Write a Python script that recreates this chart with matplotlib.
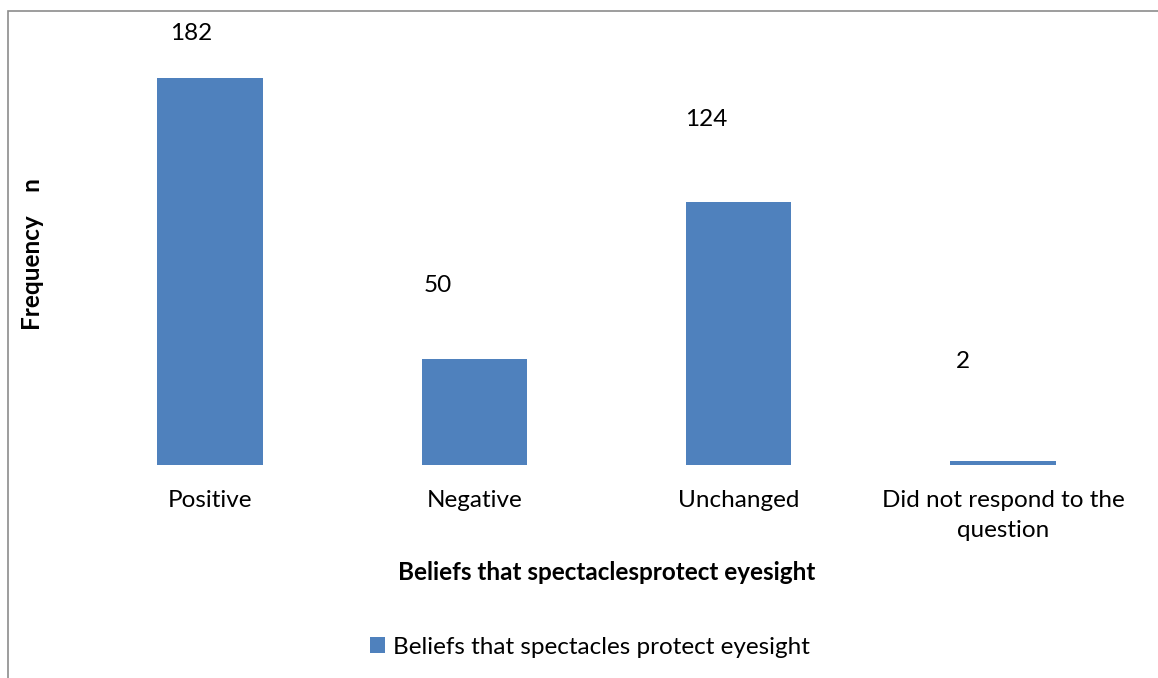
import matplotlib.pyplot as plt
from matplotlib.patches import Rectangle

plt.rcParams['font.family'] = ['Lato', 'DejaVu Sans']

categories = ["Positive", "Negative", "Unchanged", "Did not respond to the\nquestion"]
frequency = [182, 50, 124, 2]
# where Excel put the data labels, offset from bar top (pixels)
label_dx = [-19, -37, -32, -40]
label_dy = [45, 73, 82, 99]

bar_color = "#4F81BD"
fs = 17.5

fig = plt.figure(figsize=(11.58, 6.78), dpi=100)
ax = fig.add_axes([78 / 1158, 1 - 465 / 678, 1057 / 1158, 425 / 678])

x = range(len(categories))
bars = ax.bar(x, frequency, width=0.4, color=bar_color,
              label="Beliefs that spectacles protect eyesight")

for b, v, dx, dy in zip(bars, frequency, label_dx, label_dy):
    ax.annotate(str(v), (b.get_x() + b.get_width() / 2, v),
                xytext=(dx * 0.72, dy * 0.72), textcoords="offset points",
                ha="center", va="center", fontsize=fs)

ax.set_xlim(-0.5, len(categories) - 0.5)
ax.set_ylim(0, 200)
ax.set_xticks(list(x))
ax.set_xticklabels(categories, fontsize=fs, linespacing=1.55)
ax.tick_params(axis="x", length=0, pad=18)
ax.set_yticks([])
for s in ax.spines.values():
    s.set_visible(False)

ax.set_xlabel("Beliefs that spectaclesprotect eyesight", fontsize=fs,
              fontweight="bold", labelpad=14)
fig.text(33 / 1158, 1 - 254 / 678, "Frequency    n", rotation=90, fontsize=fs,
         fontweight="bold", ha="center", va="center")

leg = fig.legend(loc="center", bbox_to_anchor=(590 / 1158, 1 - 647 / 678),
                 frameon=False, fontsize=fs, handlelength=0.6, handleheight=0.6,
                 handletextpad=0.35)

# chart border (partly cropped in the original)
fig.patches.append(Rectangle((8 / 1158, -0.05), 1.2, 1 - 11 / 678 + 0.05,
                             transform=fig.transFigure, fill=False,
                             edgecolor="#8c8c8c", linewidth=1.2))

fig.savefig("out.png", dpi=100)
